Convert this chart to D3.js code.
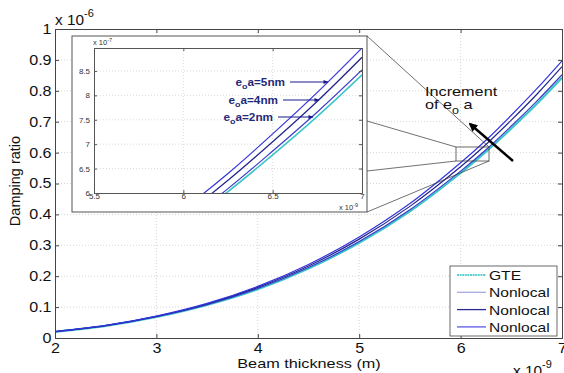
<!DOCTYPE html>
<html><head><meta charset="utf-8">
<script src="https://cdn.jsdelivr.net/npm/d3@7"></script>
<style>body{margin:0;background:#fff}svg{display:block;font-family:"Liberation Sans",Arial,sans-serif}</style>
</head><body>
<svg id="c" width="564" height="373"></svg>
<script>
// thickness in units of 1e-9 m, damping ratio in units of 1e-6
const thickness = [2,2.5,3,3.5,4,4.5,5,5.5,6,6.25,6.5,6.75,7];
const gte   = [0.020,0.039,0.068,0.107,0.158,0.225,0.308,0.410,0.534,0.603,0.678,0.757,0.842];
const nl2nm = [0.020,0.040,0.069,0.108,0.160,0.228,0.312,0.415,0.540,0.609,0.686,0.766,0.852];
const nl4nm = [0.021,0.040,0.070,0.110,0.164,0.233,0.320,0.426,0.554,0.626,0.705,0.788,0.878];
const nl5nm = [0.021,0.041,0.071,0.112,0.167,0.238,0.327,0.435,0.567,0.640,0.721,0.806,0.897];
const xTicks = [2,3,4,5,6,7];
const yTicks = [0,0.1,0.2,0.3,0.4,0.5,0.6,0.7,0.8,0.9,1];
const insetXTicks = [5.5,6,6.5,7];
const insetYTicks = [0.6,0.65,0.7,0.75,0.8,0.85];
const legendLabels = ["GTE","Nonlocal","Nonlocal","Nonlocal"];
const annotLabels = ["5nm","4nm","2nm"];

const series = [
  {vals:gte,   color:"#3cc6c8", w:2.2, legendColor:"#5fd0d0"},
  {vals:nl2nm, color:"#3b3bcc", w:1.2, legendColor:"#a8a8e0"},
  {vals:nl4nm, color:"#22228c", w:1.2, legendColor:"#2a2a90"},
  {vals:nl5nm, color:"#3434dd", w:1.2, legendColor:"#5a5ae8"}
];

const svg = d3.select("#c");
const defs = svg.append("defs");
defs.append("marker").attr("id","ah").attr("viewBox","0 0 10 10").attr("refX",8).attr("refY",5)
  .attr("markerWidth",4).attr("markerHeight",3.6).attr("orient","auto")
  .append("path").attr("d","M0,0L10,5L0,10z").attr("fill","#000");
defs.append("marker").attr("id","ahb").attr("viewBox","0 0 10 10").attr("refX",9).attr("refY",5)
  .attr("markerWidth",6).attr("markerHeight",5).attr("orient","auto")
  .append("path").attr("d","M0,1L10,5L0,9z").attr("fill","#1a1a8a");

// text helper with horizontal stretch (the reference glyphs are wider than tall)
function txt(parent, x, y, size, sx, anchor){
  return parent.append("g").attr("transform",`translate(${x},${y}) scale(${sx},1)`)
    .append("text").attr("font-size",size).attr("fill","#111").attr("text-anchor",anchor||"start");
}

// main scales
const x = d3.scaleLinear().domain([2,7]).range([55,562]);
const y = d3.scaleLinear().domain([0,1]).range([338,29]);

// grid
const g = svg.append("g");
g.selectAll(".gx").data(xTicks.slice(1,-1)).join("line")
  .attr("x1",d=>x(d)).attr("x2",d=>x(d)).attr("y1",29).attr("y2",338)
  .attr("stroke","#ccc").attr("stroke-dasharray","1,2").attr("stroke-width",0.8);
g.selectAll(".gy").data(yTicks.slice(1,-1)).join("line")
  .attr("y1",d=>y(d)).attr("y2",d=>y(d)).attr("x1",55).attr("x2",562)
  .attr("stroke","#ccc").attr("stroke-dasharray","1,2").attr("stroke-width",0.8);

// lines
const line = d3.line().x((d,i)=>x(thickness[i])).y(d=>y(d)).curve(d3.curveCatmullRom);
series.forEach(s=>{
  svg.append("path").attr("d",line(s.vals)).attr("fill","none")
    .attr("stroke",s.color).attr("stroke-width",s.w);
});

// axes
const ax = svg.append("g").attr("transform","translate(0,338)")
  .call(d3.axisBottom(x).tickValues(xTicks).tickSize(-4).tickFormat(d3.format("d")));
const ay = svg.append("g").attr("transform","translate(55,0)")
  .call(d3.axisLeft(y).tickValues(yTicks).tickSize(-4).tickFormat(d=>d===0?"0":d===1?"1":d3.format(".1f")(d)));
const axT = svg.append("g").attr("transform","translate(0,29)")
  .call(d3.axisTop(x).tickValues(xTicks).tickSize(-4).tickFormat(""));
const ayR = svg.append("g").attr("transform","translate(562,0)")
  .call(d3.axisRight(y).tickValues(yTicks).tickSize(-4).tickFormat(""));
[ax,ay,axT,ayR].forEach(a=>{a.select(".domain").attr("stroke","#444");a.selectAll(".tick line").attr("stroke","#444");});
ax.selectAll("text").attr("font-size",14).attr("fill","#111").attr("y",5).attr("dy","0.71em")
  .attr("transform","scale(1.15,1)").attr("font-family","Liberation Sans, Arial");
ay.selectAll("text").attr("font-size",14).attr("fill","#111").attr("x",-3)
  .attr("transform","scale(1.15,1)").attr("font-family","Liberation Sans, Arial");

// axis titles
txt(svg,309,368,12.5,1.3,"middle").text("Beam thickness (m)");
svg.append("text").attr("transform","translate(20,181) rotate(-90)").attr("text-anchor","middle")
  .attr("font-size",14.5).attr("fill","#111").text("Damping ratio");
const e6 = txt(svg,55,25,14,1.1);
e6.append("tspan").text("x 10");
e6.append("tspan").attr("dy",-8).attr("font-size",10).text("-6");
const e9 = txt(svg,513,376,14,1.1);
e9.append("tspan").text("x 10");
e9.append("tspan").attr("dy",-8).attr("font-size",10).text("-9");

// zoom rectangle and connector lines
const rx0=456, rx1=489, ry0=147, ry1=161;
svg.append("rect").attr("x",rx0).attr("y",ry0).attr("width",rx1-rx0).attr("height",ry1-ry0)
  .attr("fill","none").attr("stroke","#444").attr("stroke-width",0.8);
const conn = [[367,36,rx1,ry0],[367,121,rx0,ry0],[367,171,rx0,ry1],[367,212,rx1,ry1]];
svg.selectAll(".cn").data(conn).join("line")
  .attr("x1",d=>d[0]).attr("y1",d=>d[1]).attr("x2",d=>d[2]).attr("y2",d=>d[3])
  .attr("stroke","#333").attr("stroke-width",0.7);

// increment arrow and text
svg.append("line").attr("x1",513).attr("y1",161).attr("x2",470).attr("y2",124)
  .attr("stroke","#000").attr("stroke-width",2.4).attr("marker-end","url(#ah)");
txt(svg,425,96,13,1.25).text("Increment");
const inc2 = txt(svg,425,109,13,1.25);
inc2.append("tspan").text("of e");
inc2.append("tspan").attr("dy",5).attr("font-size",10).text("o");
inc2.append("tspan").attr("dy",-5).text(" a");

// legend
const lg = svg.append("g");
lg.append("rect").attr("x",450).attr("y",266).attr("width",107).attr("height",70)
  .attr("fill","#fff").attr("stroke","#444").attr("stroke-width",0.8);
series.forEach((s,i)=>{
  const yy = 275 + i*17.3;
  lg.append("line").attr("x1",457).attr("x2",486).attr("y1",yy).attr("y2",yy)
    .attr("stroke",s.legendColor).attr("stroke-width",i===0?2:1.3)
    .attr("stroke-dasharray",i===0?"2,0.6":null);
  txt(lg,489,yy+5,13,1.2).text(legendLabels[i]);
});

// ---------- inset ----------
svg.append("rect").attr("x",72).attr("y",36).attr("width",295).attr("height",176)
  .attr("fill","#fff").attr("stroke","#555").attr("stroke-width",1);
const ix = d3.scaleLinear().domain([5.5,7]).range([94,362]);
const iy = d3.scaleLinear().domain([0.6,0.897]).range([193,48]);
const ig = svg.append("g");
ig.selectAll(".igx").data(insetXTicks.slice(1,-1)).join("line")
  .attr("x1",d=>ix(d)).attr("x2",d=>ix(d)).attr("y1",48).attr("y2",193)
  .attr("stroke","#ccc").attr("stroke-dasharray","1,2").attr("stroke-width",0.7);
ig.selectAll(".igy").data(insetYTicks.slice(1)).join("line")
  .attr("y1",d=>iy(d)).attr("y2",d=>iy(d)).attr("x1",94).attr("x2",362)
  .attr("stroke","#ccc").attr("stroke-dasharray","1,2").attr("stroke-width",0.7);
defs.append("clipPath").attr("id","ic").append("rect").attr("x",94).attr("y",48).attr("width",268).attr("height",145);
const iline = d3.line().x((d,i)=>ix(thickness[i])).y(d=>iy(d)).curve(d3.curveCatmullRom);
const ilg = svg.append("g").attr("clip-path","url(#ic)");
series.forEach(s=>{
  ilg.append("path").attr("d",iline(s.vals)).attr("fill","none")
    .attr("stroke",s.color).attr("stroke-width",s.w>2?1.6:1.2);
});
const iax = svg.append("g").attr("transform","translate(0,193)")
  .call(d3.axisBottom(ix).tickValues(insetXTicks).tickSize(-3).tickFormat(d=>String(d)));
const iay = svg.append("g").attr("transform","translate(94,0)")
  .call(d3.axisLeft(iy).tickValues(insetYTicks).tickSize(-3).tickFormat(d=>{const v=Math.round(d*100)/10;return v%1===0?String(v):v.toFixed(1);}));
const iaxT = svg.append("g").attr("transform","translate(0,48)")
  .call(d3.axisTop(ix).tickValues(insetXTicks).tickSize(-3).tickFormat(""));
const iayR = svg.append("g").attr("transform","translate(362,0)")
  .call(d3.axisRight(iy).tickValues(insetYTicks).tickSize(-3).tickFormat(""));
[iax,iay,iaxT,iayR].forEach(a=>{a.select(".domain").attr("stroke","#555");a.selectAll(".tick line").attr("stroke","#555");});
iax.selectAll("text").attr("font-size",8).attr("fill","#333").attr("y",0).attr("dy","0.75em");
iay.selectAll("text").attr("font-size",8).attr("fill","#333").attr("x",-4);
const ie7 = svg.append("text").attr("x",93).attr("y",45).attr("font-size",7.5).attr("fill","#333");
ie7.append("tspan").text("x 10");
ie7.append("tspan").attr("dy",-3).attr("font-size",5.5).text("-7");
const ie9 = svg.append("text").attr("x",339).attr("y",210).attr("font-size",7.5).attr("fill","#333");
ie9.append("tspan").text("x 10");
ie9.append("tspan").attr("dy",-3).attr("font-size",5.5).text("-9");

// inset annotations
const ann = [
  {lab:annotLabels[0], tx:285, ty:82, ax2:328},
  {lab:annotLabels[1], tx:278, ty:100, ax2:319},
  {lab:annotLabels[2], tx:273, ty:117, ax2:313}
];
ann.forEach(a=>{
  const t = txt(svg,a.tx,a.ty+3.5,10.5,1.12,"end").attr("font-weight","bold").attr("fill","#1f2a78");
  t.append("tspan").text("e");
  t.append("tspan").attr("dy",3.5).attr("font-size",8).text("o");
  t.append("tspan").attr("dy",-3.5).text("a=" + a.lab);
  svg.append("line").attr("x1",a.tx+5).attr("x2",a.ax2).attr("y1",a.ty).attr("y2",a.ty)
    .attr("stroke","#1a1a8a").attr("stroke-width",1).attr("marker-end","url(#ahb)");
});
</script>
</body></html>
